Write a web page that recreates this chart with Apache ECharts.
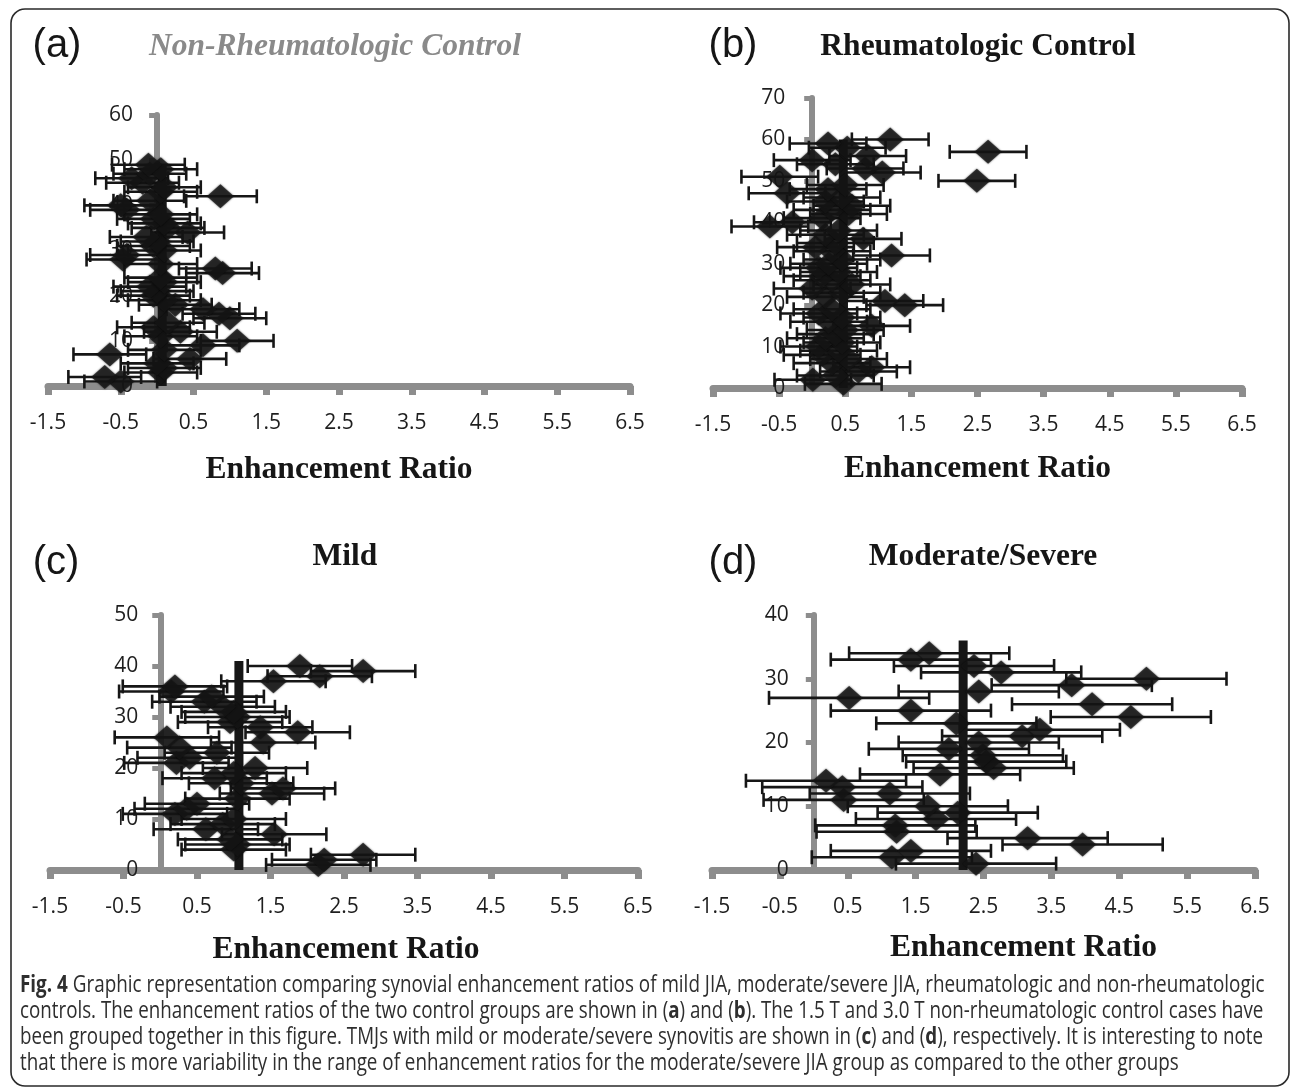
<!DOCTYPE html>
<html>
<head>
<meta charset="utf-8">
<script src="https://cdn.jsdelivr.net/npm/echarts@6.0.0/dist/echarts.min.js"></script>
<style>
  html, body { margin: 0; padding: 0; background: #fff; }
  #chart { width: 1295px; height: 1092px; }
</style>
</head>
<body>
<div id="chart"></div>
<script>
// enhancement ratio of each TMJ, listed from y = 1 upwards
const nonRheumRatios = [
  -0.5, -0.72, 0.05, 0.1, 0.0, 0.45, -0.65, 0.1, 0.63, 1.1,
  0.05, 0.32, -0.05, 0.15, 1.0, 0.85, 0.63, 0.25, 0.1, -0.05,
  0.0, -0.1, 0.1, 0.05, 0.9, 0.8, 0.05, -0.47, -0.42, 0.1,
  -0.05, 0.0, -0.15, 0.42, 0.15, 0.1, -0.05, 0.05, -0.42, -0.5,
  -0.1, 0.87, 0.05, 0.1, -0.2, -0.35, -0.1, 0.05, -0.12
];
const rheumRatios = [
  0.47, 0.01, 0.35, 0.7, 0.9, 0.3, 0.55, 0.15, 0.4, 0.1,
  0.45, 0.2, 0.35, 0.5, 0.9, 0.25, 0.45, 0.1, 0.3, 1.4,
  1.1, 0.2, 0.45, 0.0, 0.6, 0.3, 0.15, 0.4, 0.1, 0.25,
  0.45, 1.2, 0.3, 0.05, 0.35, 0.77, 0.2, 0.4, -0.64, -0.3,
  0.15, 0.55, 0.3, 0.6, 0.2, 0.45, -0.38, 0.24, 0.5, 2.49,
  -0.49, 1.06, 0.8, 0.35, 0.0, 0.84, 2.66, 0.53, 0.24, 1.18
];
const mildRatios = [
  2.15, 2.23, 2.76, 1.0, 1.05, 0.95, 1.55, 0.62, 0.85, 1.0,
  0.2, 0.36, 0.5, 1.05, 1.52, 1.67, 1.1, 0.74, 1.0, 1.29,
  0.22, 0.4, 0.77, 0.26, 1.4, 0.09, 1.87, 1.36, 0.95, 1.05,
  1.0, 0.85, 0.6, 0.7, 0.15, 0.2, 1.54, 2.17, 2.76, 1.9
];
const modSevereRatios = [
  2.39, 1.15, 1.43, 3.96, 3.15, 1.22, 1.2, 1.8, 2.12, 1.68,
  0.44, 1.12, 0.42, 0.18, 1.86, 2.65, 2.54, 2.49, 1.99, 2.43,
  3.07, 3.33, 2.1, 4.67, 1.43, 4.1, 0.52, 2.43, 3.8, 4.9,
  2.76, 2.36, 1.43, 1.7
];

// half-width of the horizontal error bars, one per panel
const errorHalfWidths = [0.5, 0.58, 0.71, 1.18];
// group mean (thick vertical bar) and the height it reaches
const meanRatios = [0.07, 0.47, 1.07, 2.2];
const meanHeights = [49, 60, 41, 36];

const panelTags = ['(a)', '(b)', '(c)', '(d)'];
const panelTitles = ['Non-Rheumatologic Control', 'Rheumatologic Control', 'Mild', 'Moderate/Severe'];
const xTicks = [-1.5, -0.5, 0.5, 1.5, 2.5, 3.5, 4.5, 5.5, 6.5];
const X_MIN = -1.5;
const X_MAX = 6.5;
const yMaxes = [60, 70, 50, 40];
const xAxisName = 'Enhancement Ratio';

const captionLines = [
  '{b|Fig. 4} Graphic representation comparing synovial enhancement ratios of mild JIA, moderate/severe JIA, rheumatologic and non-rheumatologic',
  'controls. The enhancement ratios of the two control groups are shown in ({b|a}) and ({b|b}). The 1.5 T and 3.0 T non-rheumatologic control cases have',
  'been grouped together in this figure. TMJs with mild or moderate/severe synovitis are shown in ({b|c}) and ({b|d}), respectively. It is interesting to note',
  'that there is more variability in the range of enhancement ratios for the moderate/severe JIA group as compared to the other groups'
];

const panelRatios = [nonRheumRatios, rheumRatios, mildRatios, modSevereRatios];

// pixel layout of each panel
const layouts = [
  { grid: { left: 48, top: 115, width: 582, height: 271 }, tag: [57, 46], title: [335, 47], nameGap: 68, namePad: 0, yMargin: 24 },
  { grid: { left: 713, top: 98, width: 529, height: 290 }, tag: [733, 46], title: [978, 47], nameGap: 65, namePad: 0, yMargin: 27 },
  { grid: { left: 50, top: 615, width: 588, height: 255 }, tag: [56, 563], title: [345, 557], nameGap: 64, namePad: 4, yMargin: 22 },
  { grid: { left: 712, top: 615, width: 543, height: 255 }, tag: [733, 563], title: [983, 557], nameGap: 62, namePad: 80, yMargin: 25 }
];

const AXIS_GREY = '#8d8d8d';
const INK = '#161616';
const LABEL_INK = '#1e1e1e';
const SERIF_SIZE = 31.5;

function renderErrorBar(params, api) {
  const y = api.value(1);
  const x = api.value(0);
  const e = api.value(2);
  const lo = api.coord([x - e, y]);
  const hi = api.coord([x + e, y]);
  const cap = 7;
  const style = { stroke: INK, lineWidth: 2.6 };
  return {
    type: 'group',
    children: [
      { type: 'line', shape: { x1: lo[0], y1: lo[1], x2: hi[0], y2: hi[1] }, style },
      { type: 'line', shape: { x1: lo[0], y1: lo[1] - cap, x2: lo[0], y2: lo[1] + cap }, style },
      { type: 'line', shape: { x1: hi[0], y1: hi[1] - cap, x2: hi[0], y2: hi[1] + cap }, style }
    ]
  };
}

function measureWidth(text, font) {
  const ctx = document.createElement('canvas').getContext('2d');
  ctx.font = font;
  return ctx.measureText(text.replace(/\{b\|([^}]*)\}/g, '$1')).width;
}

function buildCaption() {
  const size = 23;
  const font = size + 'px "Open Sans"';
  const target = 1242;
  const scales = captionLines.map((l) => target / measureWidth(l, font));
  const lastScale = (scales[0] + scales[1] + scales[2]) / 3;
  return captionLines.map((line, i) => ({
    type: 'text',
    x: 20,
    y: 985 + i * 26,
    scaleX: i < 3 ? scales[i] : lastScale,
    style: {
      text: line,
      fontFamily: 'Open Sans',
      fontSize: size,
      fill: '#2e2e2e',
      verticalAlign: 'middle',
      rich: { b: { fontWeight: 'bold', fontFamily: 'Open Sans', fontSize: size, fill: '#2e2e2e' } }
    }
  }));
}

function main() {
  const chart = echarts.init(document.getElementById('chart'));

  const grid = layouts.map((l) => Object.assign({ containLabel: false }, l.grid));

  const xAxis = layouts.map((l, i) => ({
    type: 'value',
    gridIndex: i,
    min: X_MIN,
    max: X_MAX,
    splitLine: { show: false },
    axisLine: { onZero: false, lineStyle: { color: AXIS_GREY, width: 7 } },
    axisTick: { customValues: xTicks, length: 9, lineStyle: { color: AXIS_GREY, width: 7 } },
    axisLabel: {
      customValues: xTicks,
      margin: 27,
      fontSize: 21,
      fontFamily: 'Open Sans',
      color: LABEL_INK
    },
    name: xAxisName,
    nameLocation: 'middle',
    nameGap: l.nameGap,
    nameTextStyle: {
      fontFamily: 'Liberation Serif',
      fontWeight: 'bold',
      fontSize: SERIF_SIZE,
      color: INK,
      padding: [0, 0, 0, l.namePad]
    }
  }));

  // the vertical axis stands at x = 0, so shift it in from the grid's left edge
  const yAxis = layouts.map((l, i) => ({
    type: 'value',
    gridIndex: i,
    min: 0,
    max: yMaxes[i],
    interval: 10,
    offset: -l.grid.width * (0 - X_MIN) / (X_MAX - X_MIN),
    splitLine: { show: false },
    axisLine: { onZero: false, lineStyle: { color: AXIS_GREY, width: 6 } },
    axisTick: { length: 8, lineStyle: { color: AXIS_GREY, width: 5 } },
    axisLabel: { margin: l.yMargin, fontSize: 21, fontFamily: 'Open Sans', color: LABEL_INK }
  }));

  const series = [];
  panelRatios.forEach((ratios, i) => {
    series.push({
      type: 'custom',
      xAxisIndex: i,
      yAxisIndex: i,
      z: 2,
      renderItem: renderErrorBar,
      encode: { x: 0, y: 1 },
      data: ratios.map((r, k) => [r, k + 1, errorHalfWidths[i]])
    });
    series.push({
      type: 'line',
      xAxisIndex: i,
      yAxisIndex: i,
      z: 3,
      symbol: 'none',
      silent: true,
      lineStyle: { color: INK, width: 9 },
      data: [[meanRatios[i], 0], [meanRatios[i], meanHeights[i]]]
    });
    series.push({
      type: 'scatter',
      xAxisIndex: i,
      yAxisIndex: i,
      z: 4,
      symbol: 'diamond',
      symbolSize: [27, 24],
      itemStyle: { color: INK, shadowBlur: 2, shadowColor: 'rgba(0,0,0,0.8)' },
      data: ratios.map((r, k) => [r, k + 1])
    });
  });

  const graphic = [
    {
      type: 'rect',
      shape: { x: 11, y: 9, width: 1278, height: 1077, r: 14 },
      style: { fill: 'none', stroke: '#2a2a2a', lineWidth: 1.6 }
    }
  ];
  layouts.forEach((l, i) => {
    graphic.push({
      type: 'text',
      x: l.tag[0],
      y: l.tag[1],
      style: {
        text: panelTags[i],
        fontFamily: 'Liberation Sans',
        fontSize: 40,
        fill: INK,
        align: 'center',
        verticalAlign: 'middle'
      }
    });
    graphic.push({
      type: 'text',
      x: l.title[0],
      y: l.title[1],
      style: {
        text: panelTitles[i],
        fontFamily: 'Liberation Serif',
        fontWeight: 'bold',
        fontStyle: i === 0 ? 'italic' : 'normal',
        fontSize: SERIF_SIZE,
        fill: i === 0 ? '#8a8a8a' : INK,
        align: 'center',
        verticalAlign: 'middle'
      }
    });
  });
  graphic.push(...buildCaption());

  chart.setOption({
    backgroundColor: '#fff',
    animation: false,
    grid,
    xAxis,
    yAxis,
    series,
    graphic
  });
}

main();
</script>
</body>
</html>
